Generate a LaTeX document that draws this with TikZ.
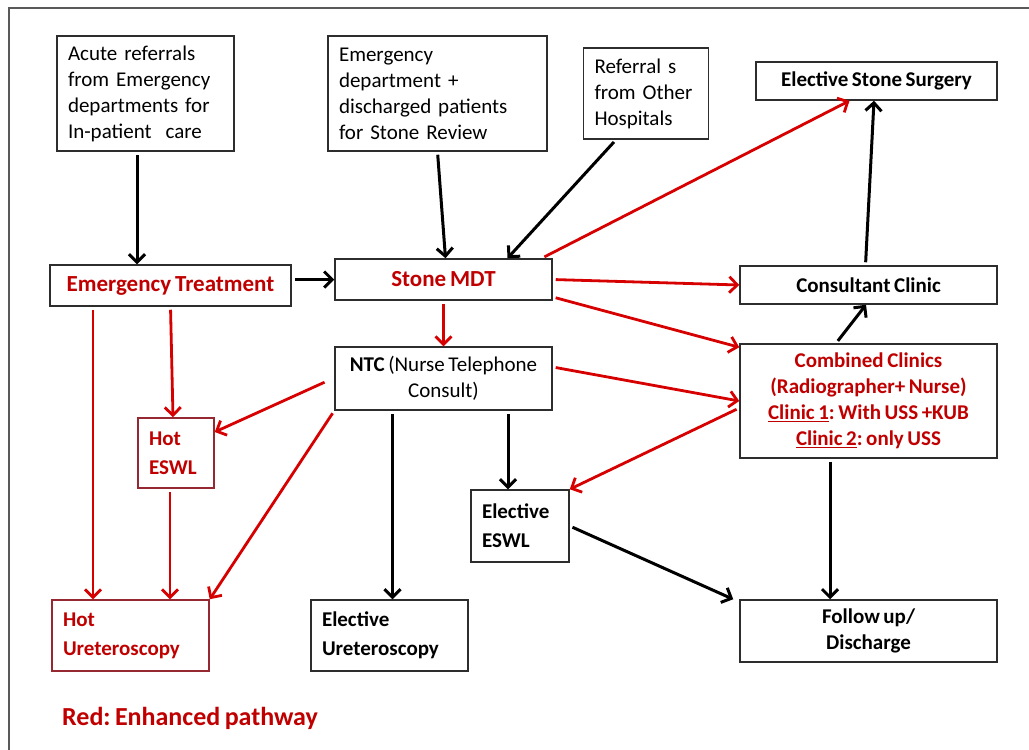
\documentclass[tikz,border=0pt]{standalone}
\usepackage{fontspec}
\setmainfont{Carlito}[WordSpace=0.75]
\usetikzlibrary{arrows.meta}
\definecolor{darkred}{RGB}{192,0,0}
\definecolor{arrowred}{RGB}{215,0,0}
\definecolor{boxred}{RGB}{150,40,50}
\definecolor{boxgray}{RGB}{45,45,45}
\frenchspacing

\begin{document}
\begin{tikzpicture}[x=1pt,y=-1pt]
\tikzstyle{box}=[draw=boxgray,line width=1.5pt,inner sep=0pt,align=center,font=\fontsize{21}{26}\selectfont]
\tikzstyle{bbox}=[box,font=\fontsize{21}{26}\selectfont\bfseries]
\tikzstyle{lbox}=[box,align=left,inner xsep=11pt]
\tikzstyle{hotbox}=[lbox,draw=boxred,text=darkred,font=\fontsize{21}{29}\selectfont\bfseries]
\tikzstyle{blk}=[draw=black,line width=3pt,shorten <=3pt,-{Straight Barb[length=8pt,width=16pt]}]
\tikzstyle{rd}=[draw=arrowred,line width=2.8pt,shorten <=3pt,-{Straight Barb[length=8pt,width=16pt]}]
\useasboundingbox (0,0) rectangle (1029,750);
\draw [gray!70!black,line width=1.2pt] (9,750) -- (9,8) -- (1029,8);
\node [lbox,text width=155pt,minimum height=115pt] (acute) at (145.5,93.5) {Acute referrals\\from Emergency\\departments for\\In-patient\ \ care};
\node [lbox,text width=197pt,minimum height=115pt] (edrev) at (437.5,93.5) {Emergency\\department +\\discharged patients\\for Stone Review};
\node [lbox,text width=103pt,minimum height=91pt] (other) at (646,93.5) {Referral s\\from Other\\Hospitals};
\node [bbox,minimum width=241pt,minimum height=38pt] (surgery) at (876.5,81) {Elective Stone Surgery};
\node [bbox,text=darkred,font=\fontsize{23}{28}\selectfont\bfseries,minimum width=241pt,minimum height=41pt] (emtreat) at (170.5,285.5) {Emergency Treatment};
\node [bbox,text=darkred,font=\fontsize{23}{28}\selectfont\bfseries,minimum width=217pt,minimum height=41pt] (stone) at (443.5,279.5) {Stone MDT};
\node [bbox,minimum width=257pt,minimum height=38pt] (consult) at (868.5,285) {Consultant Clinic};
\node [box,minimum width=217pt,minimum height=63pt] (ntc) at (443.5,378.5) {\textbf{NTC} (Nurse Telephone\\Consult)};
\node [bbox,text=darkred,minimum width=257pt,minimum height=114pt] (combined) at (868.5,401) {Combined Clinics\\(Radiographer+ Nurse)\\\underline{Clinic 1}: With USS +KUB\\\underline{Clinic 2}: only USS};
\node [hotbox,text width=54pt,minimum height=70pt] (hotes) at (176,453) {Hot\\ESWL};
\node [hotbox,text width=135pt,minimum height=71pt] (hoturs) at (130.5,635.5) {Hot\\Ureteroscopy};
\node [lbox,font=\fontsize{21}{29}\selectfont\bfseries,text width=135pt,minimum height=71pt] (eleurs) at (389.5,635.5) {Elective\\Ureteroscopy};
\node [lbox,font=\fontsize{21}{29}\selectfont\bfseries,text width=76pt,minimum height=72pt] (eleesw) at (520,526) {Elective\\ESWL};
\node [bbox,minimum width=257pt,minimum height=62pt] (follow) at (868.5,631) {Follow up/\\Discharge};
\node [text=darkred,font=\fontsize{26}{30}\selectfont\bfseries] (legend) at (190,718) {Red: Enhanced pathway};
\draw [blk] ([xshift=-8.5pt]acute.south) -- ([xshift=-8.5pt]acute.south |- emtreat.north);
\draw [blk] (edrev.south) -- ([xshift=2pt]stone.north);
\draw [blk] ([xshift=-30pt]other.south) -- ([xshift=64pt]stone.north);
\draw [blk] (emtreat.east |- stone.west) -- (stone.west);
\draw [rd] (stone.south) -- (ntc.north);
\draw [rd] ([xshift=-11pt]stone.north east) -- ([xshift=-27pt]surgery.south);
\draw [rd] (stone.east) -- (consult.west);
\draw [rd] ([yshift=-17.5pt]stone.east) -- ([yshift=-4pt]combined.north west);
\draw [blk] ([xshift=-3pt]consult.north) -- ([xshift=-2.5pt]surgery.south);
\draw [blk] ([xshift=-32.5pt]combined.north) -- ([xshift=-2.5pt]consult.south);
\draw [rd] ([yshift=11.5pt]ntc.east) -- (combined.west);
\draw [rd] ([yshift=-7pt]combined.west) -- (eleesw.north east);
\draw [rd] ([xshift=-7pt,yshift=-2.5pt]ntc.west) -- ([yshift=21pt]hotes.east);
\draw [rd] (ntc.south west) -- (hoturs.north east);
\draw [blk] ([xshift=-51pt]ntc.south) -- ([xshift=-51pt]ntc.south |- eleurs.north);
\draw [blk] ([xshift=64.5pt]ntc.south) -- ([xshift=64.5pt]ntc.south |- eleesw.north);
\draw [blk] ([xshift=-38.5pt]combined.south) -- ([xshift=-38.5pt]combined.south |- follow.north);
\draw [blk] (eleesw.east) -- ([xshift=-6pt]follow.north west);
\draw [rd] ([xshift=-77.5pt]emtreat.south) -- ([xshift=-77.5pt]emtreat.south |- hoturs.north);
\draw [rd] (emtreat.south) -- ([xshift=-3pt]hotes.north);
\draw [rd] ([xshift=-6pt]hotes.south) -- ([xshift=-6pt]hotes.south |- hoturs.north);
\end{tikzpicture}
\end{document}
